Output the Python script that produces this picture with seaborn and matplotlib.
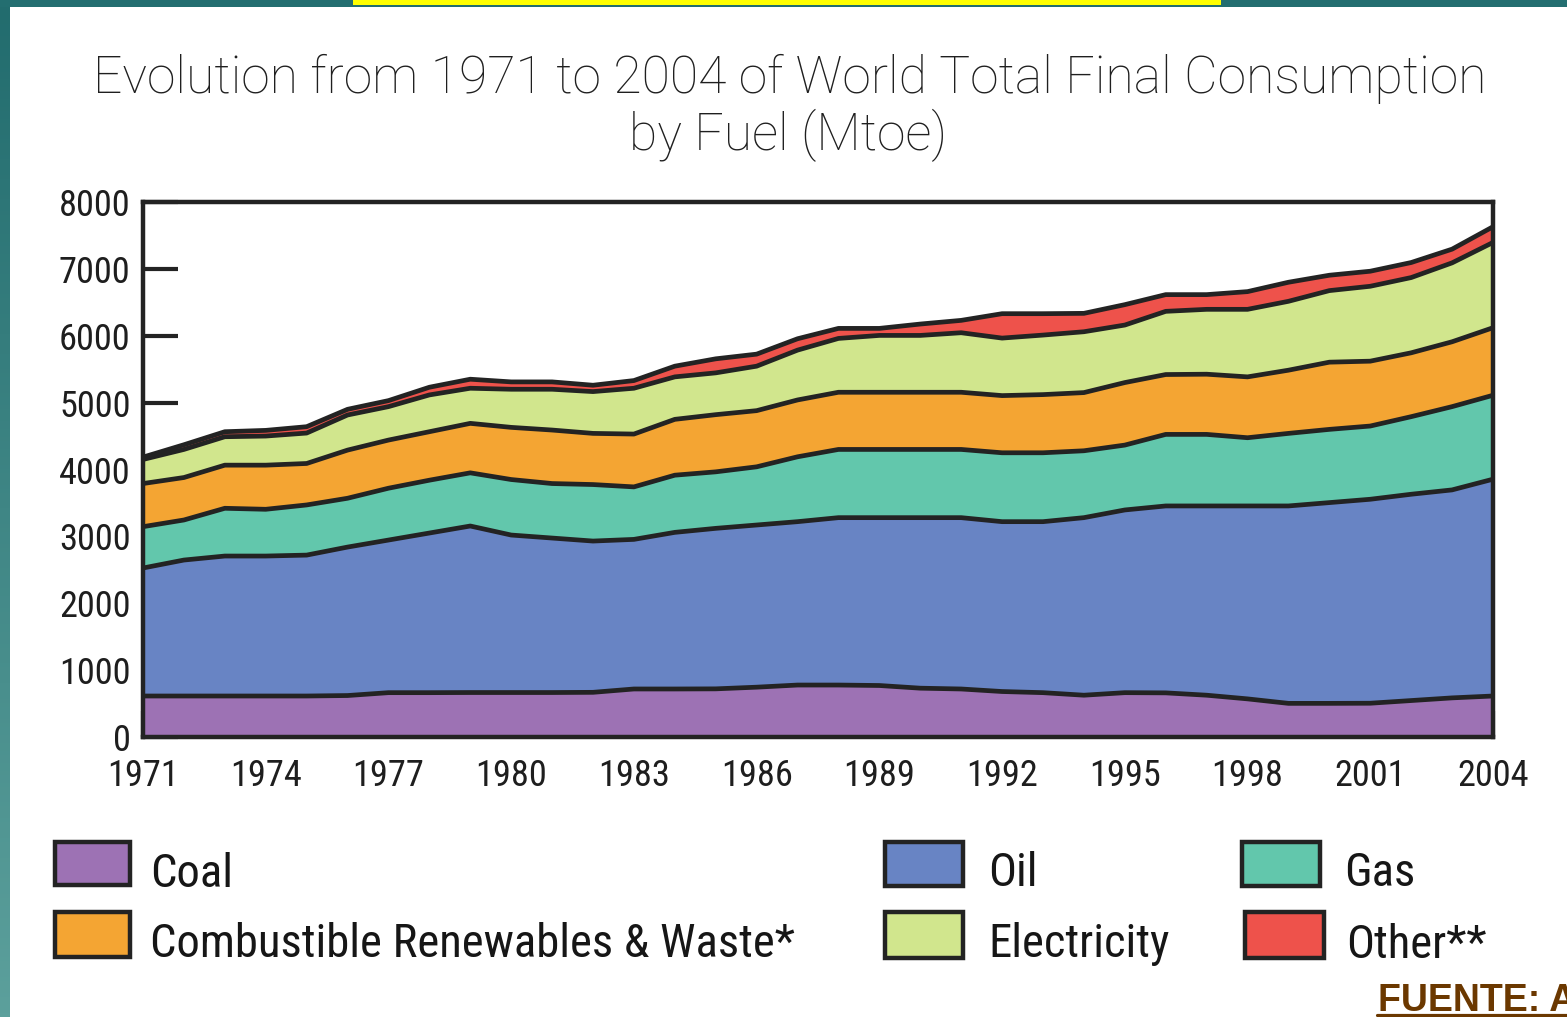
import numpy as np
import pandas as pd
import matplotlib
matplotlib.use("Agg")
import matplotlib.pyplot as plt
import seaborn as sns
from matplotlib import font_manager as fm
from matplotlib.patches import Rectangle
from matplotlib.lines import Line2D

# ---- data (Mtoe) ----
years = list(range(1971, 2005))
coal = [613, 613, 613, 613, 613, 620, 663, 663, 665, 665, 665, 668, 718, 718, 720, 745, 777,
        777, 770, 730, 718, 680, 663, 625, 663, 660, 625, 570, 503, 503, 505, 545, 585, 613]
oil = [1914, 2033, 2093, 2093, 2107, 2220, 2282, 2387, 2490, 2355, 2310, 2262, 2237, 2342, 2400,
       2425, 2443, 2503, 2510, 2550, 2562, 2540, 2557, 2655, 2732, 2795, 2830, 2885, 2952, 3002,
       3050, 3085, 3110, 3242]
gas = [618, 599, 714, 699, 750, 730, 775, 790, 795, 830, 815, 845, 785, 855, 845, 870, 970, 1020,
       1020, 1020, 1020, 1030, 1030, 1000, 970, 1070, 1070, 1020, 1085, 1095, 1095, 1160, 1245, 1255]
renewables = [645, 635, 645, 660, 620, 720, 720, 725, 740, 780, 800, 765, 790, 835, 855, 840, 850,
              855, 855, 855, 855, 855, 870, 870, 935, 895, 900, 910, 945, 1005, 970, 955, 970, 1010]
electricity = [360, 420, 425, 435, 455, 525, 500, 550, 525, 570, 610, 625, 685, 635, 625, 665, 745,
               805, 850, 850, 890, 860, 890, 910, 860, 945, 970, 1010, 1030, 1070, 1120, 1125, 1180, 1275]
other = [35, 70, 75, 85, 95, 85, 90, 115, 135, 110, 110, 95, 115, 160, 210, 180, 170, 150, 105, 170,
         185, 365, 320, 275, 305, 250, 220, 265, 285, 230, 225, 225, 205, 235]

fuel_labels = ["Coal", "Oil", "Gas", "Combustible Renewables & Waste*", "Electricity", "Other**"]
fuel_colors = ["#9d72b4", "#6884c4", "#62c7ac", "#f4a533", "#d1e68d", "#ee524b"]
title_lines = ["Evolution from 1971 to 2004 of World Total Final Consumption", "by Fuel (Mtoe)"]
source_text = "FUENTE: A"
year_ticks = list(range(1971, 2005, 3))
value_ticks = list(range(0, 8001, 1000))

INK = "#232323"
W, H = 1567, 1017

sns.set_theme(style="white")

# ---- fonts ----
available = {f.name for f in fm.fontManager.ttflist}
condensed = {f.name for f in fm.fontManager.ttflist if f.stretch in ("condensed", "semi-condensed")}
light_names = {f.name for f in fm.fontManager.ttflist
               if (isinstance(f.weight, int) and f.weight <= 300) or f.weight in ("light", "extra light", "thin")}


def pick(cands, fallback="DejaVu Sans"):
    for c in cands:
        if c in available:
            return c
    return fallback


narrow_family = pick(["Liberation Sans Narrow", "Roboto Condensed", "Open Sans Condensed",
                      "Noto Sans Condensed"], None)
narrow_stretch = "normal"
if narrow_family is None:
    if "DejaVu Sans" in condensed:
        narrow_family, narrow_stretch = "DejaVu Sans", "condensed"
    else:
        narrow_family = pick(["Liberation Sans", "DejaVu Sans"])

title_family, title_weight = pick(["Liberation Sans", "DejaVu Sans"]), "normal"
for cand in ["Roboto", "Lato", "Open Sans", "Noto Sans"]:
    if cand in light_names:
        title_family, title_weight = cand, "light"
        break
bold_family = pick(["Liberation Sans", "DejaVu Sans"])
plt.rcParams["font.family"] = [narrow_family, "DejaVu Sans"]

fig = plt.figure(figsize=(W / 100, H / 100), dpi=100)
fig.patch.set_facecolor("white")


def fx(px):
    return px / W


def fy(py):
    return 1 - py / H


# ---- stacked area chart ----
ax = fig.add_axes([fx(143), fy(737), fx(1493) - fx(143), fy(202) - fy(737)])
series = [coal, oil, gas, renewables, electricity, other]
ax.stackplot(years, *series, colors=fuel_colors, linewidth=0)

tops = np.cumsum(np.array(series), axis=0)
boundaries = pd.DataFrame({
    "year": np.tile(years, len(series)),
    "top": tops.ravel(),
    "fuel": np.repeat(fuel_labels, len(years)),
})
sns.lineplot(data=boundaries, x="year", y="top", units="fuel", estimator=None,
             color=INK, lw=3.4, legend=False, ax=ax)

ax.set_xlim(1971, 2004)
ax.set_ylim(0, 8000)
ax.set_xlabel("")
ax.set_ylabel("")
ax.set_xticks(year_ticks)
ax.set_xticklabels([str(y) for y in year_ticks])
ax.set_xticks(years, minor=True)
ax.set_yticks(value_ticks)
ax.set_yticklabels([str(v) for v in value_ticks])
for s in ax.spines.values():
    s.set_visible(True)
    s.set_color(INK)
    s.set_linewidth(3.2)
ax.tick_params(axis="x", which="both", direction="in", length=19, width=3, color=INK,
               bottom=True, top=False, pad=15, labelcolor="#1e1e1e")
ax.tick_params(axis="x", which="minor", labelbottom=False)
ax.tick_params(axis="y", which="major", direction="in", length=25, width=3, color=INK,
               left=True, right=False, pad=9, labelcolor="#1e1e1e")
for lab in ax.get_xticklabels() + ax.get_yticklabels():
    lab.set_fontfamily(narrow_family)
    lab.set_fontstretch(narrow_stretch)
ax.tick_params(labelsize=26)

# ---- titles ----
t1 = fig.text(0.504, fy(93), title_lines[0], ha="center", va="baseline", fontsize=36,
              family=title_family, fontweight=title_weight, color="#1f1f1f")
t2 = fig.text(0.503, fy(150), title_lines[1], ha="center", va="baseline", fontsize=36,
              family=title_family, fontweight=title_weight, color="#1f1f1f")

# ---- legend ----
legend_slots = [
    (55, 842, 130, 885, 150, 887),
    (885, 842, 963, 886, 988, 886),
    (1242, 842, 1320, 886, 1344, 886),
    (55, 912, 130, 957, 150, 957),
    (885, 912, 963, 958, 988, 957),
    (1245, 912, 1324, 958, 1346, 958),
]
legend_texts = []
for (x0, y0, x1, y1, tx, ty), lab, col in zip(legend_slots, fuel_labels, fuel_colors):
    fig.add_artist(Rectangle((fx(x0), fy(y1)), fx(x1) - fx(x0), fy(y0) - fy(y1),
                             transform=fig.transFigure, facecolor=col, edgecolor=INK, lw=3.2))
    legend_texts.append(fig.text(fx(tx), fy(ty), lab, ha="left", va="baseline", fontsize=32,
                                 family=narrow_family, stretch=narrow_stretch, color="#161616"))

# ---- frame decoration ----
grad = np.linspace(0, 1, 256)[:, None, None]
top_c = np.array([34, 108, 110]) / 255
bot_c = np.array([92, 160, 156]) / 255
strip = top_c * (1 - grad) + bot_c * grad
bax = fig.add_axes([0, 0, fx(10), 1])
bax.imshow(strip, aspect="auto", extent=(0, 1, 0, 1))
bax.axis("off")
fig.add_artist(Rectangle((0, fy(7)), 1, fy(0) - fy(7), transform=fig.transFigure,
                         facecolor="#236e70", edgecolor="none"))
fig.add_artist(Rectangle((fx(353), fy(5)), fx(1221) - fx(353), fy(0) - fy(5),
                         transform=fig.transFigure, facecolor="#ffff00", edgecolor="none"))

src = fig.text(fx(1378), fy(1011), source_text, ha="left", va="baseline", fontsize=27,
               family=bold_family, fontweight="bold", color="#6b3800")
fig.add_artist(Line2D([fx(1377), 1.0], [fy(1014.5)] * 2, transform=fig.transFigure,
                      color="#6b3800", lw=2.3))

# ---- size text to its measured widths ----
fig.canvas.draw()
r = fig.canvas.get_renderer()


def scale_to(txt, target):
    w = txt.get_window_extent(r).width
    return txt.get_fontsize() * target / w


ts = scale_to(t1, 1395)
t1.set_fontsize(ts)
t2.set_fontsize(ts)
ls = scale_to(legend_texts[3], 645)
for t in legend_texts:
    t.set_fontsize(ls)
tick_lab = [l for l in ax.get_xticklabels() if l.get_text() == "1974"][0]
ks = scale_to(tick_lab, 72)
ax.tick_params(labelsize=ks)

fig.savefig("out.png", dpi=100, facecolor="white")
